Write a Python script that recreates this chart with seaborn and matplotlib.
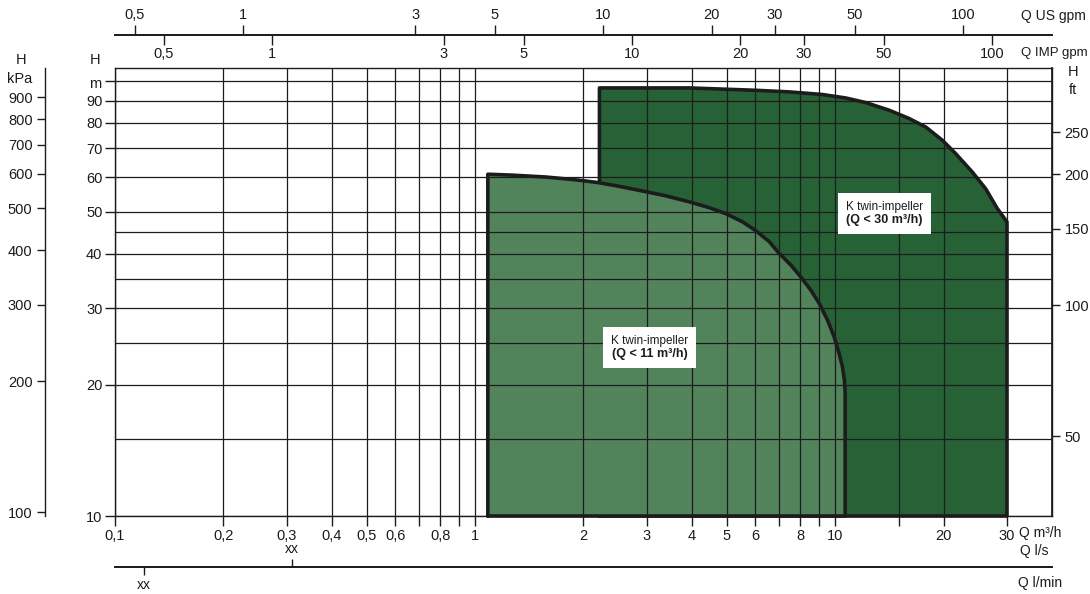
import numpy as np
import matplotlib
matplotlib.use("Agg")
import matplotlib.pyplot as plt
import seaborn as sns
from matplotlib.ticker import FixedLocator, FixedFormatter, NullLocator, NullFormatter
from matplotlib.offsetbox import TextArea, VPacker, AnnotationBbox

# ---------------------------------------------------------------
# Curve data (Q in m3/h, H in m)
# ---------------------------------------------------------------
small_q = [1.085, 1.085, 1.273, 1.576, 1.949, 2.215, 2.517, 2.921, 3.391, 3.936, 4.473, 4.976,
           5.534, 6.026, 6.561, 6.994, 7.538, 8.034, 8.563, 9.030, 9.520, 9.936, 10.26, 10.48,
           10.61, 10.66, 10.66, 1.085]
small_h = [10, 61.0, 60.7, 60.1, 59.1, 58.3, 57.2, 55.8, 54.4, 52.7, 51.1, 49.5,
           47.4, 45.2, 42.7, 40.1, 37.7, 35.4, 33.0, 30.8, 28.2, 25.8, 23.6, 22.0,
           20.5, 19.2, 10, 10]

big_q = [2.215, 2.215, 3.936, 6.026, 7.456, 9.22, 10.71, 12.17, 14.12, 16.05, 17.85, 19.85,
         21.62, 24.04, 26.18, 28.19, 30, 30, 2.215]
big_h = [10, 96.3, 96.3, 95.1, 94.3, 93.0, 91.3, 89.1, 85.6, 81.9, 78.3, 73.0,
         68.0, 61.7, 56.5, 50.9, 47.4, 10, 10]

small_label = ("K twin-impeller", "(Q < 11 m³/h)")
big_label = ("K twin-impeller", "(Q < 30 m³/h)")
small_label_pos = (3.05, 24.4)
big_label_pos = (13.7, 49.6)

# axis ticks
q_ticks = [0.1, 0.2, 0.3, 0.4, 0.5, 0.6, 0.7, 0.8, 0.9, 1, 2, 3, 4, 5, 6, 7, 8, 9, 10, 15, 20, 30]
q_labels = ["0,1", "0,2", "0,3", "0,4", "0,5", "0,6", "", "0,8", "", "1", "2", "3", "4", "5", "6",
            "", "8", "", "10", "", "20", "30"]
h_ticks = [10, 20, 30, 40, 50, 60, 70, 80, 90, 100]
h_labels = ["10", "20", "30", "40", "50", "60", "70", "80", "90", ""]
h_minor = [15, 25, 35, 45]
kpa_ticks = [100, 200, 300, 400, 500, 600, 700, 800, 900]
ft_ticks = [50, 100, 150, 200, 250]
usgpm_ticks = [0.5, 1, 3, 5, 10, 20, 30, 50, 100]
usgpm_labels = ["0,5", "1", "3", "5", "10", "20", "30", "50", "100"]
impgpm_ticks = [0.5, 1, 3, 5, 10, 20, 30, 50, 100]
impgpm_labels = ["0,5", "1", "3", "5", "10", "20", "30", "50", "100"]
ls_ticks = [0.086]
lmin_ticks = [2]

DARK = "#266235"
LIGHT = "#52845c"
INK = "#1c1c1c"

sns.set_theme(style="ticks")
plt.rcParams["font.family"] = ["Liberation Sans Narrow", "Liberation Sans", "DejaVu Sans"]
plt.rcParams["axes.edgecolor"] = INK
plt.rcParams["xtick.color"] = INK
plt.rcParams["ytick.color"] = INK

fig = plt.figure(figsize=(10.9, 5.94), dpi=100)
ax = fig.add_axes([0.1055, 0.1313, 0.8596, 0.7542])
ax.set_xscale("log")
ax.set_yscale("log")
ax.set_xlim(0.1, 40)
ax.set_ylim(10, 107)

# filled areas
ax.fill(big_q, big_h, color=DARK, lw=0, zorder=1)
sns.lineplot(x=big_q, y=big_h, sort=False, estimator=None, color=INK, lw=2.6,
             ax=ax, zorder=1.5, clip_on=False, solid_joinstyle="round")
ax.fill(small_q, small_h, color=LIGHT, lw=0, zorder=1.8)
sns.lineplot(x=small_q, y=small_h, sort=False, estimator=None, color=INK, lw=2.6,
             ax=ax, zorder=3, clip_on=False, solid_joinstyle="round")

# main ticks / grid
ax.xaxis.set_major_locator(FixedLocator(q_ticks))
ax.xaxis.set_major_formatter(FixedFormatter(q_labels))
ax.xaxis.set_minor_locator(NullLocator())
ax.yaxis.set_major_locator(FixedLocator(h_ticks))
ax.yaxis.set_major_formatter(FixedFormatter(h_labels))
ax.yaxis.set_minor_locator(FixedLocator(h_minor))
ax.yaxis.set_minor_formatter(NullFormatter())
ax.tick_params(axis="both", which="major", length=7, width=1, labelsize=10.5, pad=2, colors=INK)
ax.tick_params(axis="y", which="minor", length=0)
ax.set_axisbelow(False)
ax.grid(which="both", color=INK, lw=0.9)
for s in ax.spines.values():
    s.set_linewidth(1)
    s.set_color(INK)

# left kPa scale
sec_kpa = ax.secondary_yaxis(-0.0747, functions=(lambda h: h * 9.81, lambda p: p / 9.81))
sec_kpa.set_yticks(kpa_ticks, [str(v) for v in kpa_ticks])
sec_kpa.yaxis.set_minor_locator(NullLocator())
sec_kpa.tick_params(length=6, width=1, labelsize=10.5, pad=3)
sec_kpa.spines["left"].set_linewidth(1)

# right ft scale
sec_ft = ax.secondary_yaxis("right", functions=(lambda h: h * 3.281, lambda f: f / 3.281))
sec_ft.set_yticks(ft_ticks, [str(v) for v in ft_ticks])
sec_ft.yaxis.set_minor_locator(NullLocator())
sec_ft.tick_params(length=6, width=1, labelsize=10.5, pad=3)

# top flow scales (US gpm above line, IMP gpm below)
top_pos = 1.0737
sec_us = ax.secondary_xaxis(top_pos, functions=(lambda q: q / 0.2271, lambda g: g * 0.2271))
sec_us.set_xticks(usgpm_ticks, usgpm_labels)
sec_us.xaxis.set_minor_locator(NullLocator())
sec_us.tick_params(length=7, width=1, labelsize=10.5, pad=2)

sec_imp = ax.secondary_xaxis(top_pos, functions=(lambda q: q / 0.2728, lambda g: g * 0.2728))
sec_imp.set_alignment("bottom")
sec_imp.set_xticks(impgpm_ticks, impgpm_labels)
sec_imp.xaxis.set_minor_locator(NullLocator())
sec_imp.tick_params(length=7, width=1, labelsize=10.5, pad=2)

# bottom l/s and l/min scales sharing one line
bot_pos = -0.1138
sec_ls = ax.secondary_xaxis(bot_pos, functions=(lambda q: q / 3.6, lambda v: v * 3.6))
sec_ls.set_alignment("top")
sec_ls.set_xticks(ls_ticks, ["xx"])
sec_ls.xaxis.set_minor_locator(NullLocator())
sec_ls.tick_params(length=6, width=1, labelsize=10, pad=2)

sec_lmin = ax.secondary_xaxis(bot_pos, functions=(lambda q: q * 1000 / 60, lambda v: v * 60 / 1000))
sec_lmin.set_xticks(lmin_ticks, ["xx"])
sec_lmin.xaxis.set_minor_locator(NullLocator())
sec_lmin.tick_params(length=6, width=1, labelsize=10, pad=2)


# text boxes on the areas
def add_box(pos, lines):
    t1 = TextArea(lines[0], textprops=dict(fontsize=8.5, color=INK))
    t2 = TextArea(lines[1], textprops=dict(fontsize=9, fontweight="bold", color=INK))
    pack = VPacker(children=[t1, t2], align="center", pad=0, sep=1)
    ab = AnnotationBbox(pack, pos, xycoords="data", frameon=True, pad=0.4,
                        bboxprops=dict(boxstyle="square,pad=0.5", fc="white", ec="none"),
                        zorder=6)
    ax.add_artist(ab)


add_box(small_label_pos, small_label)
add_box(big_label_pos, big_label)


# unit labels
def ftxt(x, y, s, ha="center", size=10.5):
    fig.text(x / 1090, 1 - y / 594, s, ha=ha, va="center", fontsize=size, color=INK)


ftxt(21, 60, "H")
ftxt(20, 79, "kPa")
ftxt(95, 60, "H")
ftxt(95, 84, "m")
ftxt(1073, 72, "H")
ftxt(1073, 90, "ft")
ftxt(1021, 16, "Q US gpm", ha="left", size=10)
ftxt(1021, 53, "Q IMP gpm", ha="left", size=9.5)
ftxt(1019, 533, "Q m³/h", ha="left", size=10)
ftxt(1020, 551, "Q l/s", ha="left", size=10)
ftxt(1018, 583, "Q l/min", ha="left", size=10)

fig.savefig("out.png", dpi=100)
